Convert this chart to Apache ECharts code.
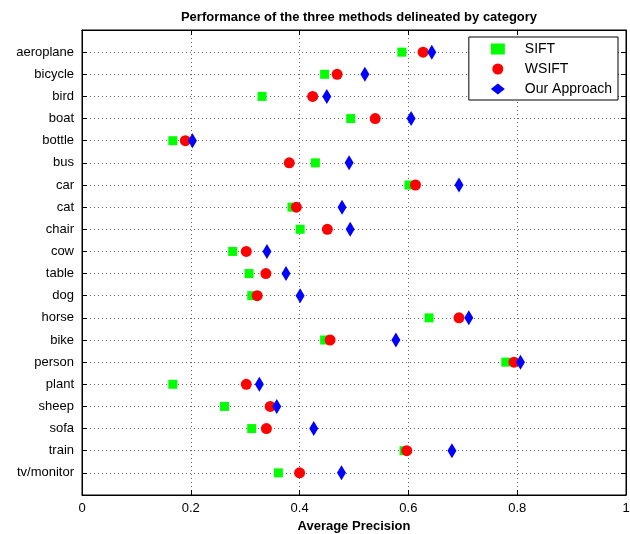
<!DOCTYPE html>
<html>
<head>
<meta charset="utf-8">
<script src="https://cdn.jsdelivr.net/npm/echarts@6/dist/echarts.min.js"></script>
<style>html,body{margin:0;padding:0;background:#fff}#c{width:630px;height:534px}</style>
</head>
<body>
<div id="c"></div>
<script>
const categories = ['aeroplane','bicycle','bird','boat','bottle','bus','car','cat','chair','cow','table','dog','horse','bike','person','plant','sheep','sofa','train','tv/monitor'];
const sift  = [0.588,0.446,0.331,0.494,0.167,0.429,0.601,0.386,0.401,0.277,0.307,0.312,0.638,0.446,0.779,0.167,0.262,0.312,0.592,0.361];
const wsift = [0.627,0.469,0.424,0.539,0.190,0.381,0.613,0.394,0.451,0.302,0.338,0.322,0.693,0.456,0.794,0.302,0.346,0.339,0.597,0.400];
const ours  = [0.643,0.520,0.450,0.605,0.203,0.491,0.693,0.478,0.493,0.340,0.375,0.401,0.711,0.577,0.806,0.326,0.358,0.426,0.680,0.477];
const seriesNames = ['SIFT','WSIFT','Our Approach'];
const titleText = 'Performance of the three methods delineated by category';
const xLabel = 'Average Precision';

const FONT = 'Liberation Sans';
const pts = arr => arr.map((v, i) => [v, i + 1]);
const dotted = () => ({show: true, lineStyle: {color: '#666', type: [1, 3], width: 1}});
const tick = () => ({show: true, inside: true, length: 5, lineStyle: {color: '#000', width: 1}});
const axisLine = () => ({show: true, onZero: false, lineStyle: {color: '#000', width: 1}});

const chart = echarts.init(document.getElementById('c'), null, {renderer: 'canvas'});
chart.setOption({
  animation: false,
  backgroundColor: '#fff',
  title: {
    text: titleText, left: 354, textAlign: 'center', top: 6,
    textStyle: {fontFamily: FONT, fontSize: 13, fontWeight: 'bold', color: '#000'}
  },
  legend: {
    orient: 'vertical', right: 12, top: 37,
    backgroundColor: '#fff', borderColor: '#000', borderWidth: 1,
    padding: [5, 6, 4, 22], itemWidth: 14, itemHeight: 11, itemGap: 6,
    symbolKeepAspect: true,
    textStyle: {fontFamily: FONT, fontSize: 14, color: '#000', padding: [0, 0, 0, 15]},
    data: seriesNames
  },
  grid: {left: 82, right: 4, top: 30, bottom: 39, containLabel: false, outerBoundsMode: 'none',
         show: true, borderColor: '#000', borderWidth: 1, backgroundColor: '#fff'},
  xAxis: [{
    type: 'value', min: 0, max: 1, interval: 0.2, position: 'bottom',
    name: xLabel, nameLocation: 'middle', nameGap: 23,
    nameTextStyle: {fontFamily: FONT, fontSize: 13, fontWeight: 'bold', color: '#000'},
    axisLine: axisLine(), axisTick: tick(), splitLine: dotted(),
    axisLabel: {fontFamily: FONT, fontSize: 13, color: '#000', margin: 7,
      formatter: v => String(Math.round(v * 10) / 10)}
  }, {
    type: 'value', min: 0, max: 1, interval: 0.2, position: 'top',
    axisLine: axisLine(), axisTick: tick(), splitLine: {show: false}, axisLabel: {show: false}
  }],
  yAxis: [{
    type: 'value', min: 0, max: 21, interval: 1, inverse: true, position: 'left',
    axisLine: axisLine(), axisTick: tick(), splitLine: dotted(),
    axisLabel: {fontFamily: FONT, fontSize: 13, color: '#000', margin: 8,
      formatter: v => (v >= 1 && v <= categories.length) ? categories[v - 1] : ''}
  }, {
    type: 'value', min: 0, max: 21, interval: 1, inverse: true, position: 'right',
    axisLine: axisLine(), axisTick: tick(), splitLine: {show: false}, axisLabel: {show: false}
  }],
  series: [
    {name: seriesNames[0], type: 'scatter', symbol: 'rect', symbolSize: 9,
     itemStyle: {color: '#00ff00', opacity: 1}, data: pts(sift), z: 3},
    {name: seriesNames[1], type: 'scatter', symbol: 'circle', symbolSize: 11,
     itemStyle: {color: '#ff0000', opacity: 1}, data: pts(wsift), z: 4},
    {name: seriesNames[2], type: 'scatter', symbol: 'diamond', symbolSize: [9, 15],
     itemStyle: {color: '#0000ff', opacity: 1}, data: pts(ours), z: 5}
  ]
});
</script>
</body>
</html>
